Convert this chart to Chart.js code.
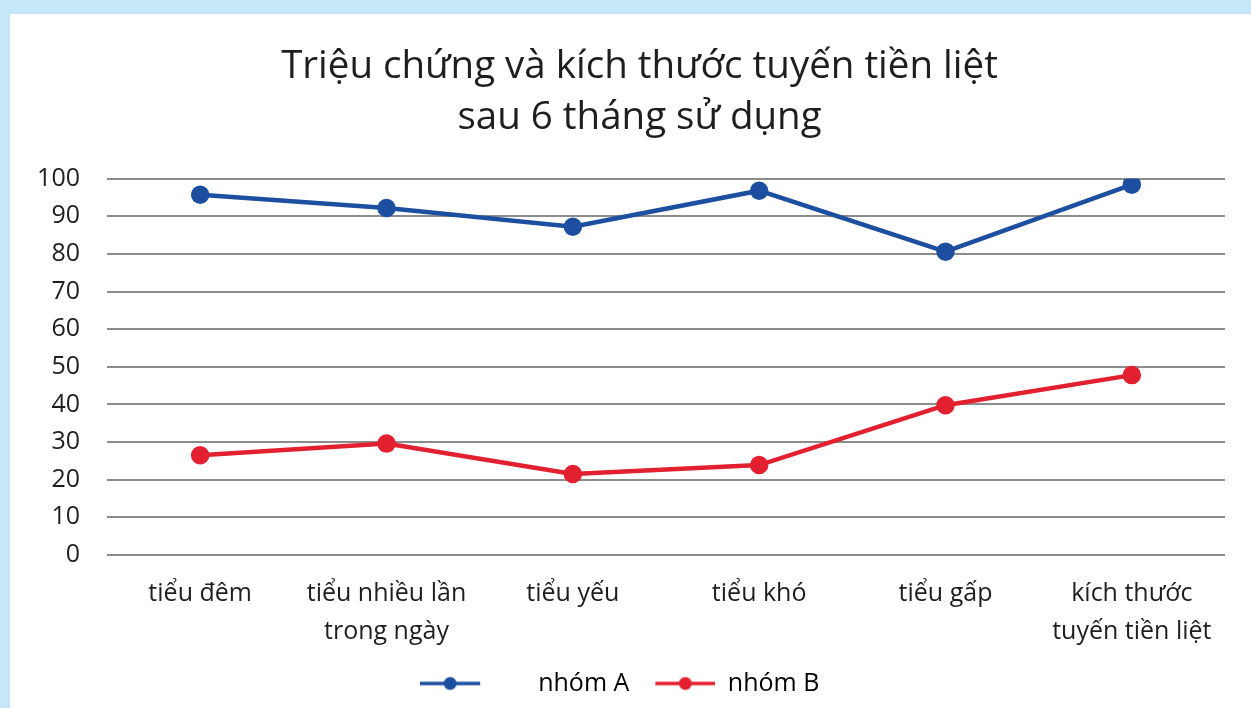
<!DOCTYPE html>
<html>
<head>
<meta charset="utf-8">
<script src="https://cdn.jsdelivr.net/npm/chart.js@4.4.0/dist/chart.umd.min.js"></script>
<style>
  html, body { margin: 0; padding: 0; }
  body { width: 1251px; height: 708px; background: #c5e7f8; position: relative; overflow: hidden; }
  .panel { position: absolute; left: 10px; top: 14px; width: 1241px; height: 694px; background: #fff; }
  canvas { display: block; }
</style>
</head>
<body>
<div class="panel"><canvas id="chart" width="1241" height="694"></canvas></div>
<script>
const categories = [
  'tiểu đêm',
  ['tiểu nhiều lần', 'trong ngày'],
  'tiểu yếu',
  'tiểu khó',
  'tiểu gấp',
  ['kích thước', 'tuyến tiền liệt']
];
const groupA = [95.7, 92.2, 87.2, 96.8, 80.6, 98.4];
const groupB = [26.5, 29.6, 21.5, 23.9, 39.8, 47.8];
const yTicks = [0, 10, 20, 30, 40, 50, 60, 70, 80, 90, 100];

const blue = '#1c4f9f';
const red = '#e3202f';

// legend marker: short line with a dot, drawn at lineX inside an image of imgWidth
function legendMarker(color, imgWidth, lineX) {
  const c = document.createElement('canvas');
  c.width = imgWidth; c.height = 16;
  const g = c.getContext('2d');
  g.strokeStyle = color;
  g.lineWidth = 3.5;
  g.beginPath(); g.moveTo(lineX, 8); g.lineTo(lineX + 60, 8); g.stroke();
  g.fillStyle = color;
  g.beginPath(); g.arc(lineX + 30, 8, 6.5, 0, Math.PI * 2); g.fill();
  return c;
}
// the first marker stands well apart from its label, as in the original
const markers = [legendMarker(blue, 145, 0), legendMarker(red, 66, 6)];

// title and legend sit a little right of the canvas centre
const nudgeRight = {
  id: 'nudgeRight',
  afterLayout(chart) {
    [chart.titleBlock, chart.legend].forEach(box => {
      if (box) { box.left += 12; box.right += 12; }
    });
  }
};

Chart.defaults.font.family = '"Open Sans", "Noto Sans", sans-serif';
Chart.defaults.color = '#1e1e1e';

new Chart(document.getElementById('chart').getContext('2d'), {
  type: 'line',
  data: {
    labels: categories,
    datasets: [
      { label: 'nhóm A', data: groupA, borderColor: blue, backgroundColor: blue,
        borderWidth: 4.5, pointRadius: 7, pointHoverRadius: 7, tension: 0 },
      { label: 'nhóm B', data: groupB, borderColor: red, backgroundColor: red,
        borderWidth: 4.5, pointRadius: 7, pointHoverRadius: 7, tension: 0 }
    ]
  },
  plugins: [nudgeRight],
  options: {
    responsive: false,
    animation: false,
    layout: { padding: { left: 20, right: 26, top: 0, bottom: 2 } },
    plugins: {
      title: {
        display: true,
        text: ['Triệu chứng và kích thước tuyến tiền liệt', 'sau 6 tháng sử dụng'],
        font: { size: 38.5, weight: 'normal', lineHeight: 1.32 },
        color: '#1e1e1e',
        padding: { top: 28, bottom: 35 }
      },
      legend: {
        position: 'bottom',
        labels: {
          usePointStyle: true,
          pointStyleWidth: 66,
          boxHeight: 16,
          font: { size: 25 },
          color: '#1e1e1e',
          padding: 20,
          generateLabels: (chart) => chart.data.datasets.map((ds, i) => ({
            text: ds.label,
            pointStyle: markers[i],
            fillStyle: ds.borderColor,
            strokeStyle: ds.borderColor,
            lineWidth: 0,
            datasetIndex: i,
            hidden: false
          }))
        }
      },
      tooltip: { enabled: false }
    },
    scales: {
      x: {
        offset: true,
        afterFit: (axis) => { axis.height = 96; },
        grid: { display: false, drawTicks: false },
        border: { display: false },
        ticks: { padding: 20, font: { size: 25, lineHeight: 1.52 }, color: '#1e1e1e', maxRotation: 0, autoSkip: false }
      },
      y: {
        min: 0,
        max: 100,
        afterBuildTicks: (axis) => { axis.ticks = yTicks.map(v => ({ value: v })); },
        afterFit: (axis) => { axis.width = 77; },
        grid: { color: '#8c8c8c', lineWidth: 2, drawTicks: false },
        border: { display: false },
        ticks: { padding: 27, font: { size: 25 }, color: '#1e1e1e' }
      }
    }
  }
});
</script>
</body>
</html>
